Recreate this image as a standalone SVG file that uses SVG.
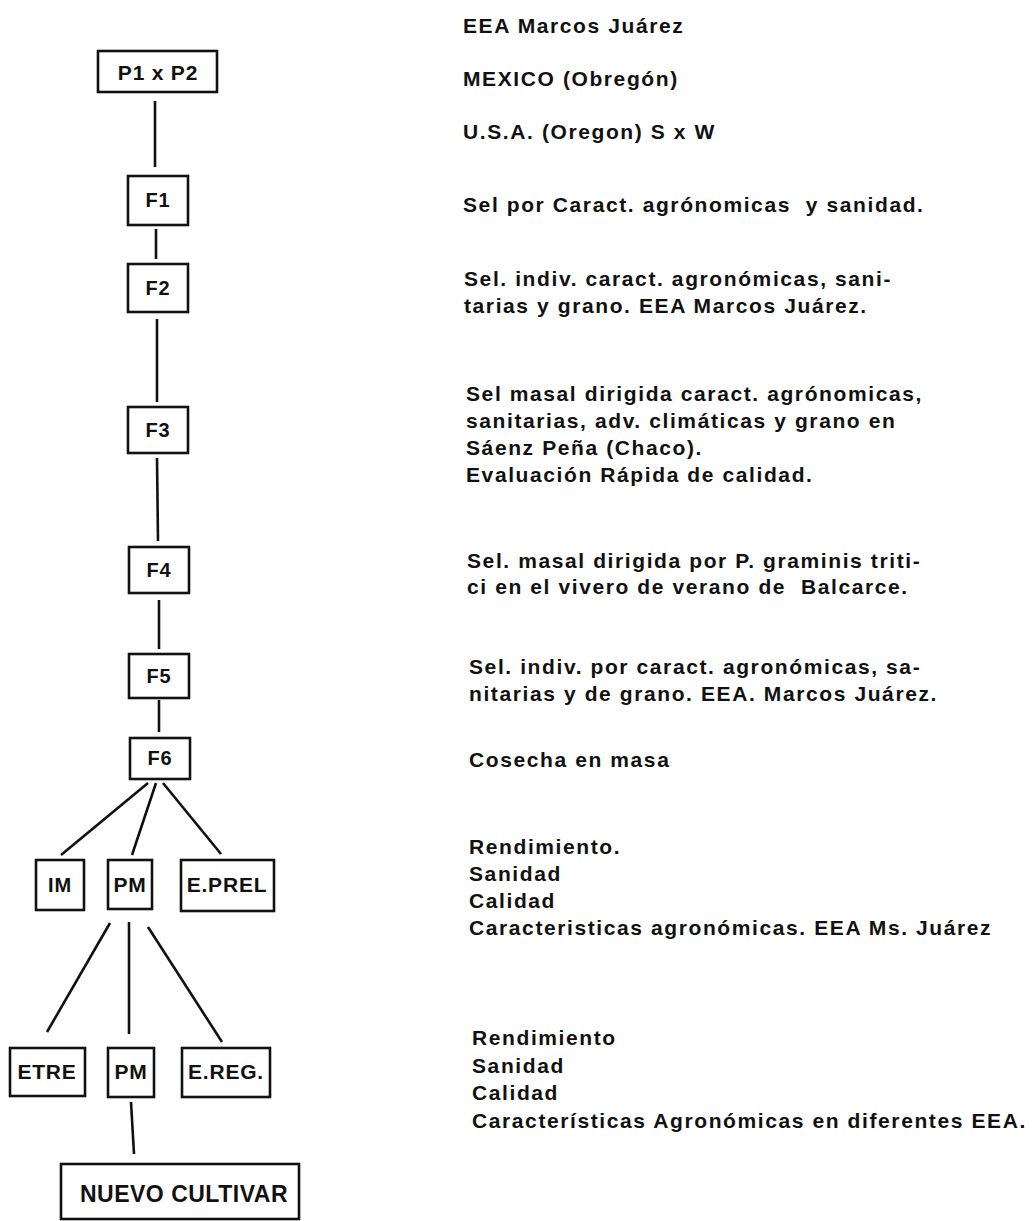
<svg xmlns="http://www.w3.org/2000/svg" width="1033" height="1221" viewBox="0 0 1033 1221">
<style>
.box{fill:#fff;stroke:#111;stroke-width:2.6}
.lbl{font-family:"Liberation Sans",Arial,sans-serif;font-weight:bold;font-size:20px;fill:#111;text-anchor:middle;letter-spacing:0.8px}
.note{font-family:"Liberation Sans",Arial,sans-serif;font-weight:bold;font-size:21px;fill:#111;letter-spacing:1.6px;white-space:pre}
.con line{stroke:#111;stroke-width:2.6;stroke-linecap:butt}
</style>
<rect width="1033" height="1221" fill="#fff"/>
<g id="connectors" class="con">
<line x1="155" y1="101" x2="155" y2="167"/>
<line x1="156" y1="229" x2="156" y2="259"/>
<line x1="157" y1="319" x2="157" y2="402"/>
<line x1="157" y1="458" x2="158" y2="541"/>
<line x1="159" y1="600" x2="159" y2="649"/>
<line x1="159" y1="700" x2="159" y2="732"/>
<line x1="148" y1="783" x2="61" y2="855"/>
<line x1="156" y1="783" x2="132" y2="855"/>
<line x1="163" y1="783" x2="221" y2="854"/>
<line x1="110" y1="923" x2="47" y2="1032"/>
<line x1="129" y1="922" x2="129" y2="1034"/>
<line x1="148" y1="927" x2="222" y2="1042"/>
<line x1="131" y1="1102" x2="134" y2="1154"/>
</g>
<g id="n-p1p2"><rect class="box" x="98" y="51" width="119" height="41"/><text class="lbl" x="158" y="80" style="font-size:21px">P1 x P2</text></g>
<g id="n-f1"><rect class="box" x="128" y="176" width="60" height="49"/><text class="lbl" x="158" y="207">F1</text></g>
<g id="n-f2"><rect class="box" x="128" y="264" width="60" height="48"/><text class="lbl" x="158" y="295">F2</text></g>
<g id="n-f3"><rect class="box" x="128" y="407" width="60" height="46"/><text class="lbl" x="158" y="437">F3</text></g>
<g id="n-f4"><rect class="box" x="129" y="547" width="60" height="46"/><text class="lbl" x="159" y="577">F4</text></g>
<g id="n-f5"><rect class="box" x="129" y="654" width="60" height="44"/><text class="lbl" x="159" y="683">F5</text></g>
<g id="n-f6"><rect class="box" x="130" y="738" width="60" height="41"/><text class="lbl" x="160" y="765">F6</text></g>
<g id="n-im"><rect class="box" x="36" y="860" width="48" height="50"/><text class="lbl" x="60" y="892">IM</text></g>
<g id="n-pm1"><rect class="box" x="108" y="860" width="44" height="49"/><text class="lbl" x="130" y="892" style="font-size:21px">PM</text></g>
<g id="n-eprel"><rect class="box" x="181" y="860" width="93" height="51"/><text class="lbl" x="227" y="892" style="font-size:21px">E.PREL</text></g>
<g id="n-etre"><rect class="box" x="10" y="1048" width="75" height="48"/><text class="lbl" x="47" y="1079" style="font-size:21px">ETRE</text></g>
<g id="n-pm2"><rect class="box" x="108" y="1048" width="46" height="49"/><text class="lbl" x="131" y="1079" style="font-size:21px">PM</text></g>
<g id="n-ereg"><rect class="box" x="182" y="1048" width="88" height="49"/><text class="lbl" x="226" y="1079" style="font-size:21px">E.REG.</text></g>
<g id="n-nuevo"><rect class="box" x="61" y="1164" width="238" height="55"/><text class="lbl" x="184" y="1202" style="font-size:23px;letter-spacing:0.5px">NUEVO CULTIVAR</text></g>
<g id="notes">
<text class="note" x="463" y="33">EEA Marcos Juárez</text>
<text class="note" x="463" y="86">MEXICO (Obregón)</text>
<text class="note" x="463" y="139">U.S.A. (Oregon) S x W</text>
<text class="note" x="463" y="212" xml:space="preserve">Sel por Caract. agrónomicas  y sanidad.</text>
<text class="note" x="464" y="286">Sel. indiv. caract. agronómicas, sani-</text>
<text class="note" x="464" y="313">tarias y grano. EEA Marcos Juárez.</text>
<text class="note" x="466" y="401">Sel masal dirigida caract. agrónomicas,</text>
<text class="note" x="466" y="428">sanitarias, adv. climáticas y grano en</text>
<text class="note" x="466" y="455">Sáenz Peña (Chaco).</text>
<text class="note" x="466" y="482">Evaluación Rápida de calidad.</text>
<text class="note" x="467" y="568">Sel. masal dirigida por P. graminis triti-</text>
<text class="note" x="467" y="594" xml:space="preserve">ci en el vivero de verano de  Balcarce.</text>
<text class="note" x="469" y="674">Sel. indiv. por caract. agronómicas, sa-</text>
<text class="note" x="469" y="701">nitarias y de grano. EEA. Marcos Juárez.</text>
<text class="note" x="469" y="767">Cosecha en masa</text>
<text class="note" x="469" y="854">Rendimiento.</text>
<text class="note" x="469" y="881">Sanidad</text>
<text class="note" x="469" y="908">Calidad</text>
<text class="note" x="469" y="935">Caracteristicas agronómicas. EEA Ms. Juárez</text>
<text class="note" x="472" y="1045">Rendimiento</text>
<text class="note" x="472" y="1073">Sanidad</text>
<text class="note" x="472" y="1100">Calidad</text>
<text class="note" x="472" y="1128">Características Agronómicas en diferentes EEA.</text>
</g>
</svg>
